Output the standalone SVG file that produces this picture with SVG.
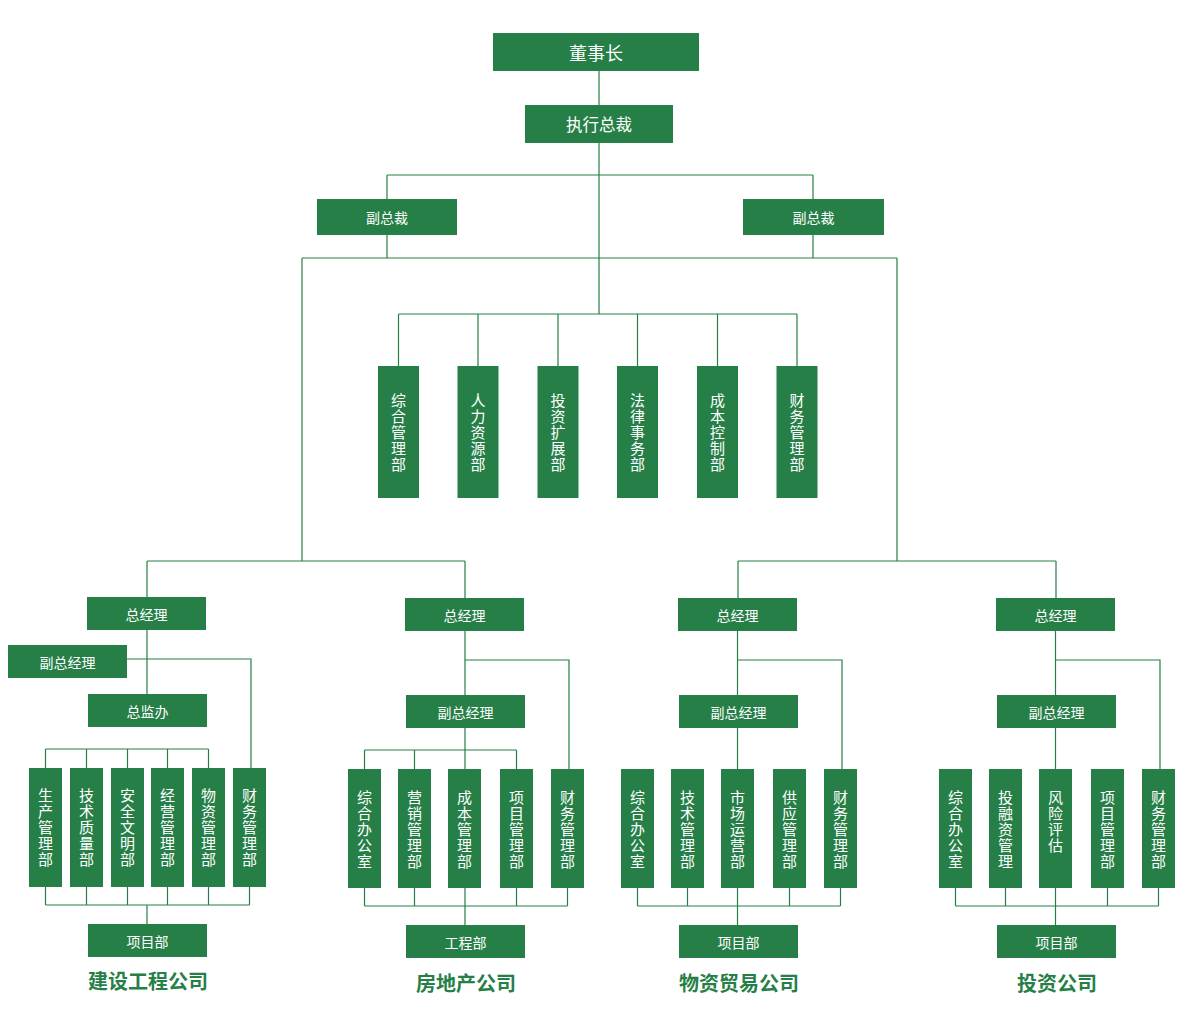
<svg xmlns="http://www.w3.org/2000/svg" width="1200" height="1036" viewBox="0 0 1200 1036">
<style>
.b{fill:#267f47}
.t{fill:#fff;font-family:"Noto Sans CJK SC","Noto Sans",sans-serif;text-anchor:middle;dominant-baseline:central}
.s14{font-size:14px}
.v{fill:#fff;font-family:"Noto Sans CJK SC","Noto Sans",sans-serif;font-size:15px;letter-spacing:1px;writing-mode:vertical-rl;text-anchor:start;dominant-baseline:central}
.title{fill:#267f47;font-family:"Noto Sans CJK SC","Noto Sans",sans-serif;font-weight:bold;font-size:20px;text-anchor:middle;dominant-baseline:central}
.c{fill:none;stroke:#267f47;stroke-width:1.2}
</style>
<rect width="1200" height="1036" fill="#fff"/>
<g id="connectors" class="c">
<path d="M599 71V314M387 175H813M387 175V199M813 175V199M387 235V258M813 235V258M302 258H897M302 258V561M897 258V561M147 561H465M147 561V597M465 561V598M738 561H1056M738 561V598M1056 561V598"/>
<path d="M398.5 314H797M398.5 314V366M478 314V366M558 314V366M637.5 314V366M717.5 314V366M797 314V366"/>
<path d="M147 630V694M127 659H251V768M45.5 749H208.5M45.5 749V768M86.5 749V768M127.5 749V768M167.5 749V768M208.5 749V768M45.5 887V905M86.5 887V905M127.5 887V905M167.5 887V905M208.5 887V905M249.5 887V905M45.5 905H249.5M147 905V924"/>
<path d="M465 631V750M465 660H569V769M364.5 750H516.5M364.5 750V769M414.5 750V769M516.5 750V769M465 750V769M364.5 888V906M414.5 888V906M516.5 888V906M567.5 888V906M364.5 906H567.5M465 888V925"/>
<path d="M737.5 631V769M737.5 660H842V769M637.5 888V906M687.5 888V906M789.5 888V906M840.5 888V906M637.5 906H840.5M737.5 888V925"/>
<path d="M1055.5 631V769M1055.5 660H1160V769M955.5 888V906M1005.5 888V906M1107.5 888V906M1158.5 888V906M955.5 906H1158.5M1055.5 888V925"/>
</g>
<g id="n-ceo"><rect class="b" x="493" y="33" width="206" height="38"/><text class="t" x="596" y="52" font-size="18">董事长</text></g>
<g id="n-exec"><rect class="b" x="525" y="105" width="148" height="38"/><text class="t" x="599" y="124" font-size="16.5">执行总裁</text></g>
<g id="n-vp1"><rect class="b" x="317" y="199" width="140" height="36"/><text class="t s14" x="387" y="217">副总裁</text></g>
<g id="n-vp2"><rect class="b" x="743" y="199" width="141" height="36"/><text class="t s14" x="813.5" y="217">副总裁</text></g>
<g id="n-d1"><rect class="b" x="378" y="366" width="41" height="132"/><text class="v" x="398.5" y="392.5">综合管理部</text></g>
<g id="n-d2"><rect class="b" x="457.5" y="366" width="41" height="132"/><text class="v" x="478" y="392.5">人力资源部</text></g>
<g id="n-d3"><rect class="b" x="537.5" y="366" width="41" height="132"/><text class="v" x="558" y="392.5">投资扩展部</text></g>
<g id="n-d4"><rect class="b" x="617" y="366" width="41" height="132"/><text class="v" x="637.5" y="392.5">法律事务部</text></g>
<g id="n-d5"><rect class="b" x="697" y="366" width="41" height="132"/><text class="v" x="717.5" y="392.5">成本控制部</text></g>
<g id="n-d6"><rect class="b" x="776.5" y="366" width="41" height="132"/><text class="v" x="797" y="392.5">财务管理部</text></g>

<g id="c1-gm"><rect class="b" x="87" y="597" width="119" height="33"/><text class="t s14" x="146.5" y="613.5">总经理</text></g>
<g id="c1-vgm"><rect class="b" x="8" y="645" width="119" height="33"/><text class="t s14" x="67.5" y="661.5">副总经理</text></g>
<g id="c1-sup"><rect class="b" x="88" y="694" width="119" height="33"/><text class="t s14" x="147.5" y="710.5">总监办</text></g>
<g id="c1-b1"><rect class="b" x="29" y="768" width="33" height="119"/><text class="v" x="45.5" y="787.5">生产管理部</text></g>
<g id="c1-b2"><rect class="b" x="70" y="768" width="33" height="119"/><text class="v" x="86.5" y="787.5">技术质量部</text></g>
<g id="c1-b3"><rect class="b" x="111" y="768" width="33" height="119"/><text class="v" x="127.5" y="787.5">安全文明部</text></g>
<g id="c1-b4"><rect class="b" x="151" y="768" width="33" height="119"/><text class="v" x="167.5" y="787.5">经营管理部</text></g>
<g id="c1-b5"><rect class="b" x="192" y="768" width="33" height="119"/><text class="v" x="208.5" y="787.5">物资管理部</text></g>
<g id="c1-b6"><rect class="b" x="233" y="768" width="33" height="119"/><text class="v" x="249.5" y="787.5">财务管理部</text></g>
<g id="c1-proj"><rect class="b" x="88" y="924" width="119" height="33"/><text class="t s14" x="147.5" y="940.5">项目部</text></g>
<text class="title" x="148" y="980">建设工程公司</text>

<g id="c2-gm"><rect class="b" x="405" y="598" width="119" height="33"/><text class="t s14" x="464.5" y="614.5">总经理</text></g>
<g id="c2-vgm"><rect class="b" x="406" y="695" width="119" height="33"/><text class="t s14" x="465.5" y="711.5">副总经理</text></g>
<g id="c2-b1"><rect class="b" x="348" y="769" width="33" height="119"/><text class="v" x="364.5" y="789.5">综合办公室</text></g>
<g id="c2-b2"><rect class="b" x="398" y="769" width="33" height="119"/><text class="v" x="414.5" y="789.5">营销管理部</text></g>
<g id="c2-b3"><rect class="b" x="448" y="769" width="33" height="119"/><text class="v" x="464.5" y="789.5">成本管理部</text></g>
<g id="c2-b4"><rect class="b" x="500" y="769" width="33" height="119"/><text class="v" x="516.5" y="789.5">项目管理部</text></g>
<g id="c2-b5"><rect class="b" x="551" y="769" width="33" height="119"/><text class="v" x="567.5" y="789.5">财务管理部</text></g>
<g id="c2-proj"><rect class="b" x="406" y="925" width="119" height="33"/><text class="t s14" x="465.5" y="941.5">工程部</text></g>
<text class="title" x="466" y="982">房地产公司</text>

<g id="c3-gm"><rect class="b" x="678" y="598" width="119" height="33"/><text class="t s14" x="737.5" y="614.5">总经理</text></g>
<g id="c3-vgm"><rect class="b" x="679" y="695" width="119" height="33"/><text class="t s14" x="738.5" y="711.5">副总经理</text></g>
<g id="c3-b1"><rect class="b" x="621" y="769" width="33" height="119"/><text class="v" x="637.5" y="789.5">综合办公室</text></g>
<g id="c3-b2"><rect class="b" x="671" y="769" width="33" height="119"/><text class="v" x="687.5" y="789.5">技术管理部</text></g>
<g id="c3-b3"><rect class="b" x="721" y="769" width="33" height="119"/><text class="v" x="737.5" y="789.5">市场运营部</text></g>
<g id="c3-b4"><rect class="b" x="773" y="769" width="33" height="119"/><text class="v" x="789.5" y="789.5">供应管理部</text></g>
<g id="c3-b5"><rect class="b" x="824" y="769" width="33" height="119"/><text class="v" x="840.5" y="789.5">财务管理部</text></g>
<g id="c3-proj"><rect class="b" x="679" y="925" width="119" height="33"/><text class="t s14" x="738.5" y="941.5">项目部</text></g>
<text class="title" x="739" y="982">物资贸易公司</text>

<g id="c4-gm"><rect class="b" x="996" y="598" width="119" height="33"/><text class="t s14" x="1055.5" y="614.5">总经理</text></g>
<g id="c4-vgm"><rect class="b" x="997" y="695" width="119" height="33"/><text class="t s14" x="1056.5" y="711.5">副总经理</text></g>
<g id="c4-b1"><rect class="b" x="939" y="769" width="33" height="119"/><text class="v" x="955.5" y="789.5">综合办公室</text></g>
<g id="c4-b2"><rect class="b" x="989" y="769" width="33" height="119"/><text class="v" x="1005.5" y="789.5">投融资管理</text></g>
<g id="c4-b3"><rect class="b" x="1039" y="769" width="33" height="119"/><text class="v" x="1055.5" y="789.5">风险评估</text></g>
<g id="c4-b4"><rect class="b" x="1091" y="769" width="33" height="119"/><text class="v" x="1107.5" y="789.5">项目管理部</text></g>
<g id="c4-b5"><rect class="b" x="1142" y="769" width="33" height="119"/><text class="v" x="1158.5" y="789.5">财务管理部</text></g>
<g id="c4-proj"><rect class="b" x="997" y="925" width="119" height="33"/><text class="t s14" x="1056.5" y="941.5">项目部</text></g>
<text class="title" x="1057" y="982">投资公司</text>
</svg>
